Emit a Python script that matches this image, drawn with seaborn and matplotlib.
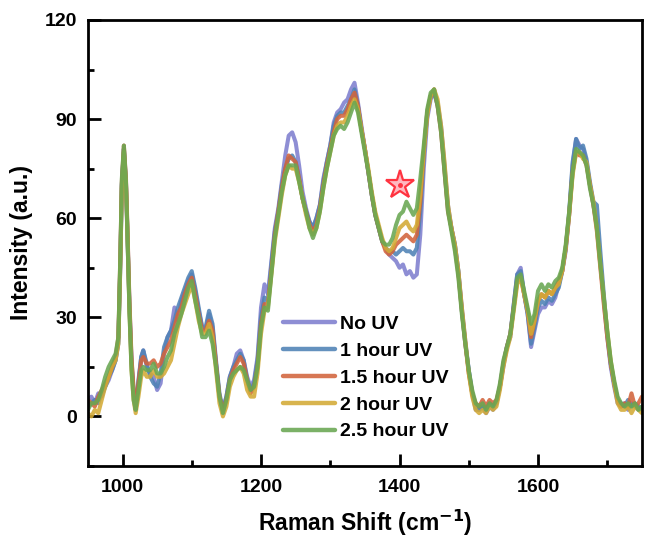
import numpy as np
import pandas as pd
import matplotlib
matplotlib.use("Agg")
import matplotlib.pyplot as plt
from matplotlib.ticker import MultipleLocator
import seaborn as sns

# Raman shift sampling positions (cm^-1): dense around the 1002 band, then every 5
shift_head = [950, 955, 960, 965, 970, 975, 980, 985, 990, 994, 997, 999,
              1002, 1005, 1007, 1010, 1013, 1016, 1019, 1023, 1027]
shift_tail = list(range(1030, 1751, 5))
raman_shift = shift_head + shift_tail

no_uv = [
    5, 6, 4, 7, 6, 9, 11, 14, 17, 23, 48, 70, 81, 70, 55, 33, 16, 7, 2, 10, 18,
    20, 15, 13, 12, 8, 10, 19, 24, 26, 33, 29, 35, 38, 41,
    43, 38, 32, 27, 26, 31, 27, 16, 6, 2, 6, 12, 15, 19, 20, 17, 12, 9, 11, 18,
    33, 40, 37, 47, 57, 63, 71, 79, 85, 86, 83, 76, 68, 63, 59, 57, 60, 64, 72, 77,
    82, 89, 92, 93, 95, 96, 99, 101, 95, 88, 81, 74, 67, 61, 57, 53, 51, 49, 48, 47,
    45, 46, 43, 44, 42, 43, 55, 75, 90, 96, 98, 95, 88, 76, 64, 57, 52, 44, 33, 23,
    14, 7, 2, 2, 3, 1, 3, 2, 4, 9, 15, 21, 24, 34, 43, 45, 37, 31, 21, 26,
    31, 33, 33, 35, 34, 36, 40, 44, 50, 61, 76, 84, 82, 81, 77, 70, 64, 58, 47, 35,
    24, 15, 9, 4, 3, 4, 2, 4, 3, 2, 3,
]
uv_1h = [
    3, 4, 5, 4, 7, 9, 12, 14, 17, 22, 47, 70, 81, 71, 57, 34, 17, 8, 2, 11, 18,
    20, 16, 12, 10, 9, 13, 21, 24, 26, 29, 33, 36, 39, 42,
    44, 39, 33, 27, 27, 32, 28, 17, 7, 2, 6, 12, 15, 17, 19, 17, 11, 8, 10, 17,
    30, 36, 35, 46, 56, 62, 70, 75, 78, 79, 77, 72, 66, 62, 59, 57, 60, 64, 71, 77,
    82, 88, 91, 92, 92, 94, 96, 99, 94, 87, 81, 74, 67, 61, 57, 53, 51, 50, 50, 49,
    50, 51, 50, 50, 49, 51, 62, 79, 92, 97, 98, 94, 87, 75, 63, 57, 52, 44, 32, 22,
    14, 7, 3, 2, 3, 2, 4, 3, 4, 9, 16, 21, 25, 34, 43, 44, 37, 31, 22, 27,
    33, 35, 34, 36, 35, 37, 39, 44, 51, 62, 77, 84, 81, 82, 78, 71, 65, 64, 50, 37,
    25, 16, 10, 5, 4, 3, 5, 3, 4, 3, 2,
]
uv_15h = [
    5, 4, 3, 6, 8, 10, 12, 15, 18, 24, 50, 71, 82, 72, 58, 35, 18, 8, 3, 10, 17,
    18, 16, 16, 17, 15, 16, 19, 21, 23, 27, 31, 33, 37, 40,
    42, 37, 31, 26, 26, 29, 26, 16, 6, 2, 5, 11, 14, 16, 18, 16, 11, 7, 9, 15,
    28, 34, 34, 44, 55, 62, 69, 75, 79, 78, 77, 72, 66, 62, 58, 56, 58, 63, 70, 76,
    81, 86, 90, 91, 91, 93, 96, 98, 94, 87, 81, 74, 67, 61, 57, 53, 50, 49, 50, 52,
    53, 54, 55, 54, 53, 55, 65, 80, 92, 97, 99, 94, 86, 74, 62, 57, 51, 43, 32, 22,
    13, 7, 4, 3, 5, 3, 5, 4, 5, 9, 16, 21, 25, 33, 41, 42, 37, 32, 24, 29,
    35, 37, 36, 38, 37, 39, 41, 44, 51, 61, 74, 80, 79, 79, 76, 70, 64, 56, 45, 34,
    24, 16, 10, 5, 3, 4, 3, 7, 3, 4, 6,
]
uv_2h = [
    1, 0, 2, 1, 5, 9, 12, 15, 17, 22, 47, 69, 80, 70, 56, 32, 14, 5, 1, 6, 12,
    14, 12, 12, 14, 12, 12, 13, 15, 17, 22, 27, 31, 34, 37,
    40, 35, 29, 25, 25, 28, 24, 14, 4, 0, 3, 9, 12, 14, 15, 13, 8, 6, 6, 13,
    25, 32, 33, 43, 53, 60, 67, 73, 76, 75, 75, 71, 66, 61, 57, 55, 57, 62, 69, 75,
    80, 85, 88, 89, 89, 91, 94, 96, 93, 87, 81, 75, 68, 62, 58, 54, 51, 50, 51, 54,
    57, 58, 59, 57, 56, 58, 67, 80, 91, 97, 99, 96, 88, 77, 64, 57, 52, 44, 33, 23,
    13, 6, 2, 1, 2, 1, 3, 2, 3, 8, 15, 20, 24, 32, 40, 42, 37, 32, 25, 29,
    35, 37, 36, 38, 37, 39, 40, 44, 51, 61, 73, 80, 80, 78, 77, 70, 65, 57, 46, 36,
    26, 17, 10, 4, 2, 2, 3, 1, 3, 2, 1,
]
uv_25h = [
    2, 4, 4, 5, 8, 12, 15, 17, 19, 24, 50, 72, 82, 71, 56, 32, 14, 5, 2, 8, 14,
    15, 14, 14, 16, 13, 13, 15, 18, 20, 25, 28, 31, 35, 39,
    41, 35, 30, 24, 24, 26, 22, 15, 6, 1, 5, 11, 13, 14, 15, 14, 11, 8, 9, 15,
    27, 33, 32, 43, 54, 61, 68, 73, 76, 76, 76, 71, 66, 62, 57, 54, 57, 62, 69, 75,
    80, 85, 87, 88, 87, 89, 92, 95, 92, 86, 80, 74, 67, 61, 57, 53, 52, 52, 54, 58,
    61, 62, 65, 63, 61, 63, 72, 82, 93, 98, 99, 94, 86, 74, 62, 56, 50, 42, 31, 22,
    14, 8, 4, 3, 4, 2, 4, 3, 5, 10, 17, 21, 25, 33, 42, 43, 38, 33, 28, 31,
    38, 40, 38, 40, 39, 41, 42, 45, 52, 62, 74, 81, 80, 79, 76, 69, 64, 57, 46, 36,
    26, 17, 11, 6, 4, 3, 4, 3, 4, 2, 3,
]

series_names = ["No UV", "1 hour UV", "1.5 hour UV", "2 hour UV", "2.5 hour UV"]
series_values = [no_uv, uv_1h, uv_15h, uv_2h, uv_25h]
series_colors = ["#7f7fcf", "#4f82b5", "#d2643c", "#d3aa35", "#69a752"]

# marked band (cm^-1, intensity)
star_pos = (1400, 70)

frames = []
for name, vals in zip(series_names, series_values):
    frames.append(pd.DataFrame({"shift": raman_shift, "intensity": vals, "sample": name}))
df = pd.concat(frames, ignore_index=True)

sns.set_style("ticks")
plt.rcParams["font.family"] = ["Liberation Sans", "DejaVu Sans"]
plt.rcParams["font.weight"] = "bold"
plt.rcParams["text.color"] = "black"
plt.rcParams["axes.labelcolor"] = "black"
plt.rcParams["xtick.color"] = "black"
plt.rcParams["ytick.color"] = "black"

fig = plt.figure(figsize=(6.51, 5.40), dpi=100)
ax = fig.add_axes([0.135, 0.137, 0.851, 0.826])

sns.lineplot(data=df, x="shift", y="intensity", hue="sample",
             hue_order=series_names, palette=series_colors,
             linewidth=2.9, alpha=0.88, ax=ax, sort=False, estimator=None)

ax.plot([star_pos[0]], [star_pos[1]], marker="*", markersize=21,
        markerfacecolor="#ffb8c0", markeredgecolor="#ff3340",
        markeredgewidth=1.6, linestyle="none")
ax.plot([star_pos[0]], [star_pos[1]], marker="o", markersize=2.5,
        color="#ff3340", linestyle="none")

ax.set_xlim(950, 1750)
ax.set_ylim(-15, 120)
ax.xaxis.set_major_locator(MultipleLocator(200))
ax.xaxis.set_minor_locator(MultipleLocator(100))
ax.yaxis.set_major_locator(MultipleLocator(30))
ax.yaxis.set_minor_locator(MultipleLocator(15))
ax.tick_params(which="both", direction="in", width=2, top=False, right=False,
               labelsize=14, colors="black")
ax.tick_params(which="major", length=9, pad=9)
ax.tick_params(which="minor", length=4.5)
ax.tick_params(axis="y", which="major", pad=8)
for lab in ax.get_xticklabels() + ax.get_yticklabels():
    lab.set_fontweight("bold")
for sp in ax.spines.values():
    sp.set_linewidth(2)
    sp.set_color("black")

ax.set_xlabel(r"Raman Shift (cm$^{\mathbf{-1}}$)", fontsize=16.5, fontweight="bold",
              labelpad=9, color="black")
ax.set_ylabel("Intensity (a.u.)", fontsize=16.5, fontweight="bold", labelpad=8,
              color="black")

leg = ax.legend(loc="lower left", bbox_to_anchor=(0.32, 0.018), frameon=False,
                handlelength=2.7, handletextpad=0.25, labelspacing=0.48,
                prop={"weight": "bold", "size": 14})
for line in leg.get_lines():
    line.set_linewidth(3.2)
for txt in leg.get_texts():
    txt.set_color("black")

fig.savefig("out.png", dpi=100)
